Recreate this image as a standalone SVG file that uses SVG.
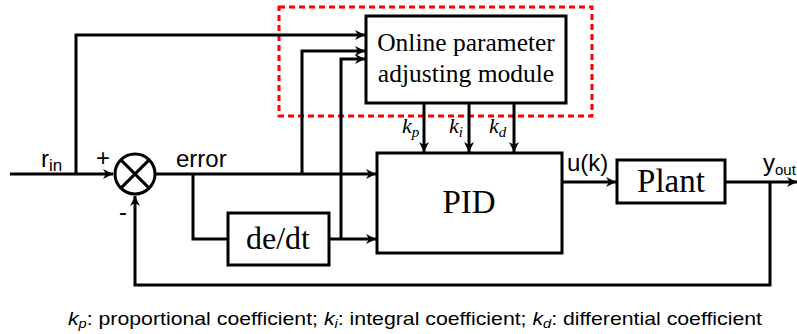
<svg xmlns="http://www.w3.org/2000/svg" width="797" height="334" viewBox="0 0 797 334">
<style>
.ln{fill:none;stroke:#000;stroke-width:3}
.bx{fill:#fff;stroke:#000;stroke-width:3}
.serif{font-family:"Liberation Serif","Times New Roman",serif;fill:#000}
.sans{font-family:"Liberation Sans",Arial,sans-serif;fill:#000}
</style>
<defs>
<marker id="ah" viewBox="0 0 10 10" refX="10" refY="5" markerWidth="10" markerHeight="10" markerUnits="userSpaceOnUse" orient="auto">
<path d="M0,0 L10,5 L0,10 L3,5 Z" fill="#000"/>
</marker>
</defs>
<rect x="279" y="7" width="313" height="109" fill="none" stroke="#f00" stroke-width="3" stroke-dasharray="6,4"/>
<g id="connectors">
<path class="ln" d="M10,174 H113" marker-end="url(#ah)"/>
<path class="ln" d="M76,174 V35 H365" marker-end="url(#ah)"/>
<path class="ln" d="M156,174 H376" marker-end="url(#ah)"/>
<path class="ln" d="M302,174 V51 H365" marker-end="url(#ah)"/>
<path class="ln" d="M193,174 V239 H228"/>
<path class="ln" d="M329,239 H376" marker-end="url(#ah)"/>
<path class="ln" d="M341,239 V59 H365" marker-end="url(#ah)"/>
<path class="ln" d="M424,103 V152" marker-end="url(#ah)"/>
<path class="ln" d="M469,103 V152" marker-end="url(#ah)"/>
<path class="ln" d="M514,103 V152" marker-end="url(#ah)"/>
<path class="ln" d="M562,182 H616" marker-end="url(#ah)"/>
<path class="ln" d="M725,182 H797" marker-end="url(#ah)"/>
<path class="ln" d="M770,182 V285 H135 V196" marker-end="url(#ah)"/>
</g>
<g id="sum">
<circle cx="135" cy="174" r="20" fill="#fff" stroke="#000" stroke-width="3"/>
<path class="ln" d="M120.9,159.9 L149.1,188.1 M149.1,159.9 L120.9,188.1"/>
<text class="sans" x="103" y="166" font-size="24" text-anchor="middle">+</text>
<text class="sans" x="123" y="220" font-size="24" text-anchor="middle">-</text>
</g>
<g id="online">
<rect class="bx" x="366" y="16" width="200" height="87"/>
<text class="serif" x="466" y="51" font-size="25.5" text-anchor="middle">Online parameter</text>
<text class="serif" x="466" y="82" font-size="25.5" text-anchor="middle">adjusting module</text>
</g>
<g id="pid">
<rect class="bx" x="377" y="153" width="185" height="100"/>
<text class="serif" x="469" y="213" font-size="33" text-anchor="middle">PID</text>
</g>
<g id="dedt">
<rect class="bx" x="228" y="213" width="101" height="52"/>
<text class="serif" x="278" y="249" font-size="32" text-anchor="middle">de/dt</text>
</g>
<g id="plant">
<rect class="bx" x="617" y="160" width="108" height="43"/>
<text class="serif" x="671" y="192" font-size="33" text-anchor="middle">Plant</text>
</g>
<g id="labels">
<text class="sans" x="41" y="167" font-size="24">r<tspan font-size="17" dy="4">in</tspan></text>
<text class="sans" x="176" y="167" font-size="24">error</text>
<text class="sans" x="567" y="171" font-size="24">u(k)</text>
<text class="sans" x="763" y="171" font-size="24">y<tspan font-size="15" dy="4">out</tspan></text>
<text class="serif" x="402" y="133" font-size="22" font-style="italic">k<tspan font-size="15" dy="4">p</tspan></text>
<text class="serif" x="449" y="133" font-size="22" font-style="italic">k<tspan font-size="15" dy="4">i</tspan></text>
<text class="serif" x="489" y="133" font-size="22" font-style="italic">k<tspan font-size="15" dy="4">d</tspan></text>
<text class="sans" x="68" y="325" font-size="19" textLength="694" lengthAdjust="spacingAndGlyphs"><tspan font-style="italic">k</tspan><tspan font-style="italic" font-size="13" dy="3">p</tspan><tspan dy="-3">: proportional coefficient; </tspan><tspan font-style="italic">k</tspan><tspan font-style="italic" font-size="13" dy="3">i</tspan><tspan dy="-3">: integral coefficient; </tspan><tspan font-style="italic">k</tspan><tspan font-style="italic" font-size="13" dy="3">d</tspan><tspan dy="-3">: differential coefficient</tspan></text>
</g>
</svg>
